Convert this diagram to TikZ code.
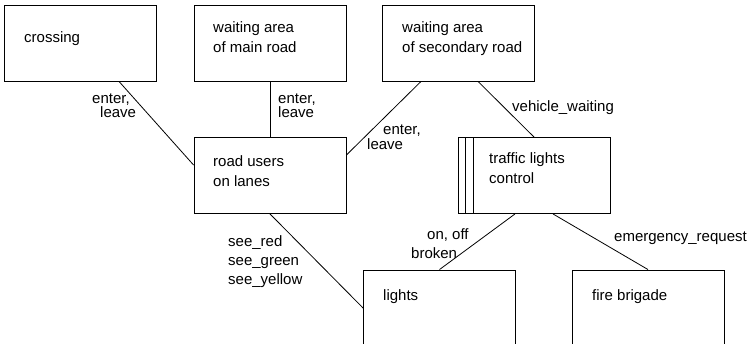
\documentclass[tikz,border=0pt]{standalone}
\usepackage{fontspec}
\setmainfont{Liberation Sans}
\usetikzlibrary{calc}

\tikzset{
  unit/.style={draw=black, line width=0.9pt, rectangle, inner sep=0pt,
    minimum width=152pt, minimum height=76pt},
  % text nodes are placed by the baseline of their last line
  txt/.style={inner sep=0pt, anchor=base west, align=left,
    font=\fontsize{15}{19}\selectfont},
  link/.style={draw=black, line width=0.8pt},
}

\begin{document}
\begin{tikzpicture}[x=1pt, y=-1pt]
  \useasboundingbox (0,0) rectangle (754,344);
  \clip (0,0) rectangle (754,344);

  % components
  \node[unit] (crossing)  at (80,43)    {};
  \node[unit] (mainroad)  at (270,43)   {};
  \node[unit] (secondary) at (458.5,43) {};
  \node[unit] (roadusers) at (270,175.5) {};
  \node[unit] (traffic)   at (534,175.5) {};
  \node[unit] (lights)    at (439.5,308) {};
  \node[unit] (fire)      at (648,308)  {};

  % multiple-instance bars of the controller
  \draw[link] ([xshift=8pt]traffic.north west) -- ([xshift=8pt]traffic.south west);
  \draw[link] ([xshift=16pt]traffic.north west) -- ([xshift=16pt]traffic.south west);

  % component names
  \node[txt] (tcrossing)  at (24,43)  {crossing};
  \node[txt] (tmainroad)  at (213,53) {waiting area\\[1pt]of main road};
  \node[txt] (tsecondary) at (402,53) {waiting area\\[1pt]of secondary road};
  \node[txt] (troadusers) at (213,187) {road users\\[1pt]on lanes};
  \node[txt] (ttraffic)   at (489,184) {traffic lights\\[1pt]control};
  \node[txt] (tlights)    at (383,301) {lights};
  \node[txt] (tfire)      at (592,301) {fire brigade};

  % channels
  \draw[link] ([xshift=39pt]crossing.south) -- ([yshift=10.5pt]roadusers.west);
  \draw[link] (mainroad.south) -- (roadusers.north);
  \draw[link] ([xshift=-37.5pt]secondary.south) -- ([yshift=20.5pt]roadusers.east);
  \draw[link] ([xshift=19.5pt]secondary.south) -- (traffic.north);
  \draw[link] (roadusers.south) -- (lights.west);
  \draw[link] ([xshift=-19pt]traffic.south) -- (lights.north);
  \draw[link] ([xshift=19pt]traffic.south) -- (fire.north);

  % channel labels
  \node[txt] (l1) at (92,118)  {enter,\\[-5pt]\hspace{8pt}leave};
  \node[txt] (l2) at (278,118) {enter,\\[-5pt]leave};
  \node[txt] (l3) at (367,150) {\hspace{16pt}enter,\\[-4pt]leave};
  \node[txt] (l4) at (512,112) {vehicle\_waiting};
  \node[txt] (l5) at (228,285) {see\_red\\see\_green\\see\_yellow};
  \node[txt] (l6) at (411,259) {\hspace{16pt}on, off\\broken};
  \node[txt] (l7) at (614,242) {emergency\_request};
\end{tikzpicture}
\end{document}
